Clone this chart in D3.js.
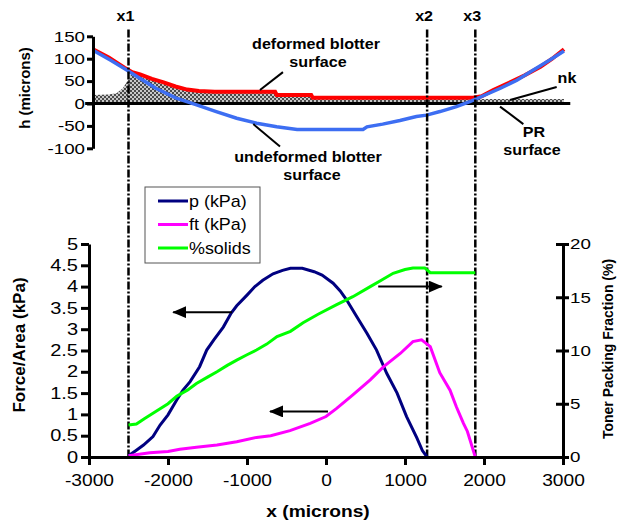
<!DOCTYPE html>
<html>
<head>
<meta charset="utf-8">
<script src="https://cdn.jsdelivr.net/npm/d3@7"></script>
<style>
  body { margin: 0; background: #fff; }
  text { font-family: "Liberation Sans", Arial, sans-serif; }
</style>
</head>
<body>
<div id="container"></div>
<script>
/* DATA */
const xTicks = [-3000, -2000, -1000, 0, 1000, 2000, 3000]
const forceTicks = [0, 0.5, 1, 1.5, 2, 2.5, 3, 3.5, 4, 4.5, 5]
const fracTicks = [0, 5, 10, 15, 20]
const hTicks = [-100, -50, 0, 50, 100, 150]

const markX = [-2500, 1280, 1890]
const markLabels = ["x1", "x2", "x3"]

// top panel: blotter surfaces and ink (h, microns)
const redX = [-3000, -2800, -2600, -2500, -2400, -2250, -2100, -1950, -1800, -1650, -1450, -680, -660, -220, -200, 1840, 1950, 2100, 2300, 2500, 2700, 2850, 3000]
const redY = [121, 103, 80, 70, 65, 55, 47, 38, 31, 28, 26, 26, 19, 19, 13, 13, 16, 30, 46, 63, 82, 100, 121]

const blueX = [-3000, -2780, -2570, -2400, -2200, -1940, -1680, -1430, -1170, -915, -660, -400, 440, 490, 690, 910, 1120, 1250, 1420, 1630, 1800, 1930, 2190, 2400, 2610, 2820, 3000]
const blueY = [119, 97, 75, 56, 34, 12, -3, -18, -33, -44, -52, -58, -58, -52, -46, -38, -29, -26, -18, -7, 4, 14, 34, 52, 75, 97, 117]

const inkX = [-3000, -2800, -2700, -2620, -2540, -2500, -2400, -2250, -2100, -1950, -1800, -1650, -1450, -680, -660, -220, -200, 1840, 1900, 3000]
const inkY = [19, 20, 23, 34, 56, 70, 63, 53, 45, 36, 29, 26, 24, 24, 18, 18, 11, 11, 10, 10]

// bottom panel
const pX = [-2500, -2400, -2310, -2190, -2100, -2000, -1890, -1810, -1720, -1600, -1510, -1420, -1300, -1200, -1130, -1000, -900, -800, -670, -550, -450, -300, -150, -50, 90, 180, 260, 390, 520, 640, 770, 900, 1020, 1150, 1220, 1280]
const pY = [0.03, 0.16, 0.28, 0.48, 0.75, 0.99, 1.34, 1.57, 1.77, 2.12, 2.51, 2.75, 3.05, 3.38, 3.55, 3.8, 4.0, 4.15, 4.3, 4.38, 4.43, 4.43, 4.35, 4.27, 4.08, 3.9, 3.69, 3.29, 2.9, 2.51, 1.96, 1.5, 0.95, 0.45, 0.15, 0.0]

const ftX = [-2500, -2230, -2000, -1850, -1640, -1380, -1130, -880, -700, -456, -200, 0, 135, 340, 560, 730, 940, 1100, 1210, 1320, 1440, 1570, 1650, 1740, 1790, 1890]
const ftY = [0.03, 0.1, 0.13, 0.18, 0.23, 0.28, 0.36, 0.46, 0.5, 0.62, 0.79, 0.95, 1.14, 1.46, 1.81, 2.12, 2.43, 2.71, 2.75, 2.59, 1.98, 1.57, 1.18, 0.79, 0.6, 0.0]

const solX = [-2500, -2400, -2300, -2150, -2000, -1890, -1750, -1640, -1500, -1380, -1250, -1130, -1000, -880, -750, -620, -450, -290, -100, 135, 340, 560, 700, 850, 1000, 1100, 1250, 1320, 1890]
const solY = [3.0, 3.1, 3.6, 4.3, 5.0, 5.7, 6.3, 6.9, 7.5, 8.0, 8.6, 9.1, 9.6, 10.05, 10.6, 11.3, 11.8, 12.6, 13.4, 14.3, 15.05, 16.0, 16.6, 17.25, 17.6, 17.75, 17.75, 17.3, 17.3]

const legendNames = ["p (kPa)", "ft (kPa)", "%solids"]
const legendColors = ["#000080", "#ff00ff", "#00ff00"]

/* SETUP */
const width = 620
const height = 523
const zip = (xs, ys) => xs.map((x, i) => [x, ys[i]])

const svg = d3.select("#container")
  .append("svg")
  .attr("width", width)
  .attr("height", height)

// SCALES
const xTop = d3.scaleLinear().domain([-3000, 3000]).range([93, 564])
const yTop = d3.scaleLinear().domain([-100, 150]).range([148.3, 36.3])
const xBot = d3.scaleLinear().domain([-3000, 3000]).range([89, 563])
const yForce = d3.scaleLinear().domain([0, 5]).range([457, 244])
const yFrac = d3.scaleLinear().domain([0, 20]).range([457, 244])

// the original picture is stretched sideways a little
function stretch(sel, k) {
  sel.each(function () {
    const t = d3.select(this)
    const x = +t.attr("x") || 0
    t.attr("x", x / k).attr("transform", `scale(${k},1)`)
  })
}

function label(x, y, str, size, k, anchor = "middle", weight = "bold") {
  return svg.append("text")
    .attr("transform", `translate(${x},${y}) scale(${k},1)`)
    .attr("text-anchor", anchor)
    .attr("font-size", size)
    .attr("font-weight", weight)
    .text(str)
}

function styleAxis(g, size, k) {
  g.select(".domain").attr("stroke-width", 3)
  g.selectAll(".tick line").attr("stroke-width", 3)
  g.selectAll(".tick text").attr("font-size", size).attr("fill", "black")
    .attr("font-family", '"Liberation Sans", Arial, sans-serif')
  stretch(g.selectAll(".tick text"), k)
}

// DEFS
const defs = svg.append("defs")
const pat = defs.append("pattern")
  .attr("id", "checks")
  .attr("width", 4).attr("height", 4)
  .attr("patternUnits", "userSpaceOnUse")
pat.append("rect").attr("width", 4).attr("height", 4).attr("fill", "#c8c8c8")
pat.append("rect").attr("width", 2).attr("height", 2).attr("fill", "#4a4a4a")
pat.append("rect").attr("x", 2).attr("y", 2).attr("width", 2).attr("height", 2).attr("fill", "#4a4a4a")

defs.append("marker")
  .attr("id", "head")
  .attr("markerUnits", "userSpaceOnUse")
  .attr("markerWidth", 14).attr("markerHeight", 12)
  .attr("refX", 13).attr("refY", 6)
  .attr("orient", "auto")
  .append("path")
  .attr("d", "M0,0L14,6L0,12Z")
  .attr("fill", "black")

/* TOP PANEL */
const inkArea = d3.area()
  .x(d => xTop(d[0]))
  .y0(yTop(0))
  .y1(d => yTop(d[1]))

svg.append("path")
  .datum(zip(inkX, inkY))
  .attr("fill", "url(#checks)")
  .attr("d", inkArea)

const topLine = d3.line().x(d => xTop(d[0])).y(d => yTop(d[1]))

svg.append("line")
  .attr("x1", xTop(-3100)).attr("x2", xTop(3080))
  .attr("y1", yTop(0)).attr("y2", yTop(0))
  .attr("stroke", "black").attr("stroke-width", 3)

svg.append("path")
  .datum(zip(redX, redY))
  .attr("fill", "none")
  .attr("stroke", "#ff0000")
  .attr("stroke-width", 4)
  .attr("d", topLine)

svg.append("path")
  .datum(zip(blueX, blueY))
  .attr("fill", "none")
  .attr("stroke", "#3d6ef2")
  .attr("stroke-width", 3.5)
  .attr("d", topLine)

const hAxis = svg.append("g")
  .attr("transform", `translate(${xTop(-3000)},0)`)
  .call(d3.axisLeft(yTop).tickValues(hTicks).tickSize(6).tickSizeOuter(0).tickPadding(2).tickFormat(d => d))
styleAxis(hAxis, 15, 1.25)

svg.append("text")
  .attr("transform", `translate(30,88) rotate(-90)`)
  .attr("text-anchor", "middle")
  .attr("font-size", 15)
  .attr("font-weight", "bold")
  .text("h (microns)")

// leader lines (top panel, data units)
const leaders = [
  [[-580, 70], [-873, 30]],
  [[-958, -46], [-618, -96]],
  [[2907, 37], [2312, 8]],
  [[2185, -7], [2482, -46]]
]
svg.selectAll(".leader")
  .data(leaders)
  .join("line")
  .attr("class", "leader")
  .attr("x1", d => xTop(d[0][0])).attr("y1", d => yTop(d[0][1]))
  .attr("x2", d => xTop(d[1][0])).attr("y2", d => yTop(d[1][1]))
  .attr("stroke", "black").attr("stroke-width", 2)

label(316, 49, "deformed blotter", 14, 1.15)
label(318, 67, "surface", 14, 1.15)
label(308, 162, "undeformed blotter", 14, 1.15)
label(312, 180, "surface", 14, 1.15)
label(567, 83, "nk", 14, 1.15)
label(534, 137, "PR", 14, 1.15)
label(532, 155, "surface", 14, 1.15)

/* VERTICAL MARKERS */
svg.selectAll(".mark")
  .data(markX)
  .join("line")
  .attr("class", "mark")
  .attr("x1", d => xBot(d)).attr("x2", d => xBot(d))
  .attr("y1", yTop(165)).attr("y2", yForce(0))
  .attr("stroke", "black")
  .attr("stroke-width", 2.5)
  .attr("stroke-dasharray", "8,2,2,2")

markX.forEach((m, i) => label(xBot(m) - 3, 21, markLabels[i], 14, 1.15))

/* BOTTOM PANEL */
const forceLine = d3.line().x(d => xBot(d[0])).y(d => yForce(d[1]))
const fracLine = d3.line().x(d => xBot(d[0])).y(d => yFrac(d[1]))

svg.append("path")
  .datum(zip(pX, pY))
  .attr("fill", "none")
  .attr("stroke", legendColors[0])
  .attr("stroke-width", 3)
  .attr("d", forceLine)

svg.append("path")
  .datum(zip(ftX, ftY))
  .attr("fill", "none")
  .attr("stroke", legendColors[1])
  .attr("stroke-width", 3)
  .attr("d", forceLine)

svg.append("path")
  .datum(zip(solX, solY))
  .attr("fill", "none")
  .attr("stroke", legendColors[2])
  .attr("stroke-width", 3)
  .attr("d", fracLine)

// arrows pointing to the axis each curve belongs to (left axis units)
const arrows = [
  [[-1190, 3.4], [-1934, 3.4]],
  [[25, 1.07], [-709, 1.07]],
  [[661, 4.0], [1465, 4.0]]
]
svg.selectAll(".arrow")
  .data(arrows)
  .join("line")
  .attr("class", "arrow")
  .attr("x1", d => xBot(d[0][0])).attr("y1", d => yForce(d[0][1]))
  .attr("x2", d => xBot(d[1][0])).attr("y2", d => yForce(d[1][1]))
  .attr("stroke", "black").attr("stroke-width", 2)
  .attr("marker-end", "url(#head)")

// AXES
const xAxisGroup = svg.append("g")
  .attr("transform", `translate(0,${yForce(0)})`)
  .call(d3.axisBottom(xBot).tickValues(xTicks).tickSize(8).tickSizeOuter(0).tickPadding(10).tickFormat(d => d))
styleAxis(xAxisGroup, 16, 1.2)

const yAxisGroup = svg.append("g")
  .attr("transform", `translate(${xBot(-3000)},0)`)
  .call(d3.axisLeft(yForce).tickValues(forceTicks).tickSize(8).tickSizeOuter(0).tickPadding(3).tickFormat(d => d))
styleAxis(yAxisGroup, 16, 1.25)

const y2AxisGroup = svg.append("g")
  .attr("transform", `translate(${xBot(3000)},0)`)
  .call(d3.axisRight(yFrac).tickValues(fracTicks).tickSize(6).tickSizeOuter(0).tickPadding(1).tickFormat(d => d))
styleAxis(y2AxisGroup, 15, 1.25)
y2AxisGroup.selectAll(".tick line").attr("x1", -7)

svg.append("text")
  .attr("transform", `translate(25,345) rotate(-90)`)
  .attr("text-anchor", "middle")
  .attr("font-size", 17)
  .attr("font-weight", "bold")
  .text("Force/Area (kPa)")

svg.append("text")
  .attr("transform", `translate(613,349) rotate(-90)`)
  .attr("text-anchor", "middle")
  .attr("font-size", 14)
  .attr("font-weight", "bold")
  .text("Toner Packing Fraction (%)")

label(318, 517, "x (microns)", 16, 1.2)

// LEGEND
svg.append("rect")
  .attr("x", 145).attr("y", 187)
  .attr("width", 115).attr("height", 76)
  .attr("fill", "white")
  .attr("stroke", "#555").attr("stroke-width", 1)

const legend = svg.selectAll(".legendItem")
  .data(legendNames)
  .join("g")
  .attr("class", "legendItem")
  .attr("transform", (d, i) => `translate(158,${201 + i * 23.5})`)

legend.append("line")
  .attr("x1", 0).attr("x2", 30)
  .attr("stroke", (d, i) => legendColors[i])
  .attr("stroke-width", 3)

legend.append("text")
  .attr("transform", "translate(31,0) scale(1.12,1)")
  .attr("dy", "0.35em")
  .attr("font-size", 16)
  .text(d => d)
</script>
</body>
</html>
